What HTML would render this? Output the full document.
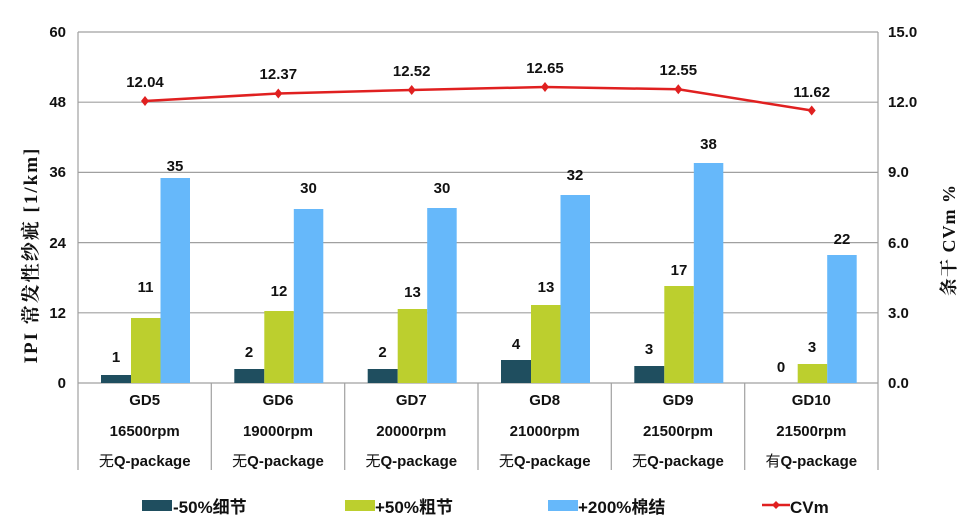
<!DOCTYPE html>
<html><head><meta charset="utf-8"><style>
html,body{margin:0;padding:0;background:#fff;}
svg{display:block;font-family:"Liberation Sans","Noto Sans CJK SC",sans-serif;}
</style></head><body>
<svg width="966" height="526" viewBox="0 0 966 526" xmlns="http://www.w3.org/2000/svg">
<rect width="966" height="526" fill="#fff"/>
<g stroke="#a0a0a0" stroke-width="1.2">
<line x1="78" y1="32" x2="878" y2="32"/>
<line x1="78" y1="102.2" x2="878" y2="102.2"/>
<line x1="78" y1="172.4" x2="878" y2="172.4"/>
<line x1="78" y1="242.6" x2="878" y2="242.6"/>
<line x1="78" y1="312.8" x2="878" y2="312.8"/>
<line x1="78" y1="383" x2="878" y2="383"/>
<line x1="78" y1="32" x2="78" y2="470"/>
<line x1="878" y1="32" x2="878" y2="470"/>
<line x1="211.3" y1="383" x2="211.3" y2="470"/>
<line x1="344.7" y1="383" x2="344.7" y2="470"/>
<line x1="478" y1="383" x2="478" y2="470"/>
<line x1="611.3" y1="383" x2="611.3" y2="470"/>
<line x1="744.7" y1="383" x2="744.7" y2="470"/>
</g>
<g font-size="15" font-weight="bold" fill="#111" text-anchor="end">
<text x="66" y="37">60</text><text x="66" y="107">48</text><text x="66" y="177">36</text>
<text x="66" y="248">24</text><text x="66" y="318">12</text><text x="66" y="388">0</text>
</g>
<g font-size="15" font-weight="bold" fill="#111" text-anchor="start">
<text x="888" y="37">15.0</text><text x="888" y="107">12.0</text><text x="888" y="177">9.0</text>
<text x="888" y="248">6.0</text><text x="888" y="318">3.0</text><text x="888" y="388">0.0</text>
</g>
<text transform="translate(37,255) rotate(-90)" text-anchor="middle" font-size="19" font-weight="bold" fill="#111" letter-spacing="2" font-family="'Liberation Serif','Noto Serif CJK SC',serif">IPI 常发性纱疵 [1/km]</text>
<text transform="translate(955,240) rotate(-90)" text-anchor="middle" font-size="18" font-weight="bold" fill="#111" letter-spacing="1" font-family="'Liberation Serif','Noto Serif CJK SC',serif">条干  CVm %</text>
<g id="bars">
<rect x="101" y="375" width="30" height="8" fill="#1f4e5f"/>
<rect x="131" y="318" width="29.5" height="65" fill="#bccf2e"/>
<rect x="160.5" y="178" width="29.5" height="205" fill="#66b8fa"/>
<rect x="234.3" y="369" width="30" height="14" fill="#1f4e5f"/>
<rect x="264.3" y="311" width="29.5" height="72" fill="#bccf2e"/>
<rect x="293.8" y="209" width="29.5" height="174" fill="#66b8fa"/>
<rect x="367.7" y="369" width="30" height="14" fill="#1f4e5f"/>
<rect x="397.7" y="309" width="29.5" height="74" fill="#bccf2e"/>
<rect x="427.2" y="208" width="29.5" height="175" fill="#66b8fa"/>
<rect x="501" y="360" width="30" height="23" fill="#1f4e5f"/>
<rect x="531" y="305" width="29.5" height="78" fill="#bccf2e"/>
<rect x="560.5" y="195" width="29.5" height="188" fill="#66b8fa"/>
<rect x="634.3" y="366" width="30" height="17" fill="#1f4e5f"/>
<rect x="664.3" y="286" width="29.5" height="97" fill="#bccf2e"/>
<rect x="693.8" y="163" width="29.5" height="220" fill="#66b8fa"/>
<rect x="797.7" y="364" width="29.5" height="19" fill="#bccf2e"/>
<rect x="827.2" y="255" width="29.5" height="128" fill="#66b8fa"/>
</g>
<g font-size="15" font-weight="bold" fill="#111" text-anchor="middle">
<text x="116" y="362">1</text><text x="145.5" y="292">11</text><text x="175" y="171">35</text>
<text x="249" y="357">2</text><text x="279" y="296">12</text><text x="308.5" y="193">30</text>
<text x="382.5" y="357">2</text><text x="412.5" y="297">13</text><text x="442" y="193">30</text>
<text x="516" y="349">4</text><text x="546" y="292">13</text><text x="575" y="180">32</text>
<text x="649" y="354">3</text><text x="679" y="275">17</text><text x="708.5" y="149">38</text>
<text x="781" y="372">0</text><text x="812" y="352">3</text><text x="842" y="244">22</text>
</g>
<polyline points="145,101 278.3,93.5 411.7,90 545,87 678.3,89.3 811.7,110.5" fill="none" stroke="#e02020" stroke-width="2.5"/>
<g fill="#e02020">
<path d="M145,96 l4,5 l-4,5 l-4,-5z"/><path d="M278.3,88.5 l4,5 l-4,5 l-4,-5z"/>
<path d="M411.7,85 l4,5 l-4,5 l-4,-5z"/><path d="M545,82 l4,5 l-4,5 l-4,-5z"/>
<path d="M678.3,84.3 l4,5 l-4,5 l-4,-5z"/><path d="M811.7,105.5 l4,5 l-4,5 l-4,-5z"/>
</g>
<g font-size="15" font-weight="bold" fill="#111" text-anchor="middle">
<text x="145" y="87">12.04</text><text x="278.3" y="79">12.37</text><text x="411.7" y="76">12.52</text>
<text x="545" y="73">12.65</text><text x="678.3" y="75">12.55</text><text x="811.7" y="97">11.62</text>
</g>
<g font-size="15" font-weight="bold" fill="#111" text-anchor="middle">
<text x="144.7" y="405">GD5</text><text x="278" y="405">GD6</text><text x="411.3" y="405">GD7</text>
<text x="544.7" y="405">GD8</text><text x="678" y="405">GD9</text><text x="811.3" y="405">GD10</text>
<text x="144.7" y="436">16500rpm</text><text x="278" y="436">19000rpm</text><text x="411.3" y="436">20000rpm</text>
<text x="544.7" y="436">21000rpm</text><text x="678" y="436">21500rpm</text><text x="811.3" y="436">21500rpm</text>
<text x="144.7" y="466"><tspan font-weight="normal">无</tspan>Q-package</text>
<text x="278" y="466"><tspan font-weight="normal">无</tspan>Q-package</text>
<text x="411.3" y="466"><tspan font-weight="normal">无</tspan>Q-package</text>
<text x="544.7" y="466"><tspan font-weight="normal">无</tspan>Q-package</text>
<text x="678" y="466"><tspan font-weight="normal">无</tspan>Q-package</text>
<text x="811.3" y="466"><tspan font-weight="normal">有</tspan>Q-package</text>
</g>
<g font-size="17" font-weight="bold" fill="#111">
<rect x="142" y="500" width="30" height="11" fill="#1f4e5f"/>
<text x="173" y="513">-50%细节</text>
<rect x="345" y="500" width="30" height="11" fill="#bccf2e"/>
<text x="375" y="513">+50%粗节</text>
<rect x="548" y="500" width="30" height="11" fill="#66b8fa"/>
<text x="578" y="513">+200%棉结</text>
<line x1="762" y1="505" x2="790" y2="505" stroke="#e02020" stroke-width="2.5"/>
<path d="M776,501 l4,4 l-4,4 l-4,-4z" fill="#e02020"/>
<text x="790" y="513">CVm</text>
</g>
</svg>
</body></html>
